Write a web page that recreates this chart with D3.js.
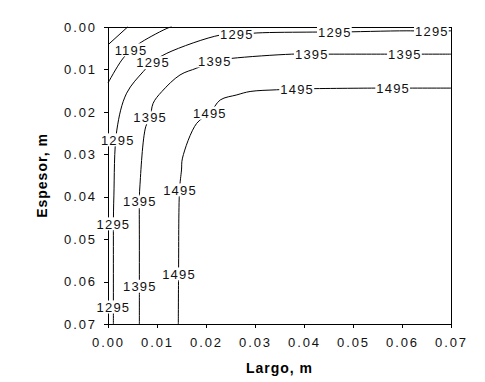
<!DOCTYPE html>
<html>
<head>
<meta charset="utf-8">
<script src="https://cdn.jsdelivr.net/npm/d3@7"></script>
<style>
  body { margin: 0; background: #fff; }
  text { font-family: "Liberation Sans", Arial, sans-serif; }
</style>
</head>
<body>
<svg id="chart" width="485" height="382"></svg>
<script>
// axis ticks (m)
var xTicks = [0, 0.01, 0.02, 0.03, 0.04, 0.05, 0.06, 0.07]
var yTicks = [0, 0.01, 0.02, 0.03, 0.04, 0.05, 0.06, 0.07]

// contour lines, [largo, espesor]
var lineCorner = [[0, 0.0042], [0.0040, 0]]
var line1195 = [[0, 0.0132], [0.0028, 0.0078], [0.0047, 0.0054], [0.0069, 0.0035], [0.0123, 0.0002], [0.0130, 0]]
var line1295 = [[0.0011, 0.07], [0.0011, 0.0660], [0.0011, 0.0502], [0.0011, 0.0464], [0.0012, 0.0398],
  [0.0018, 0.0243], [0.0038, 0.0156], [0.0072, 0.0105], [0.0090, 0.0084], [0.0120, 0.0062],
  [0.0229, 0.0019], [0.0263, 0.0018], [0.0304, 0.0014], [0.0418, 0.0012], [0.0463, 0.0012],
  [0.0610, 0.0009], [0.0661, 0.0010], [0.07, 0.0009]]
var line1395 = [[0.0064, 0.07], [0.0064, 0.0611], [0.0064, 0.050], [0.0064, 0.0412], [0.0065, 0.0377],
  [0.0077, 0.0235], [0.0086, 0.0214], [0.0092, 0.0180], [0.0110, 0.0152], [0.0147, 0.0113],
  [0.0181, 0.0097], [0.0218, 0.0080], [0.0252, 0.0074], [0.0375, 0.0064], [0.0416, 0.0064],
  [0.0571, 0.0064], [0.0606, 0.0064], [0.07, 0.0064]]
var line1495 = [[0.01435, 0.07], [0.0144, 0.0582], [0.0146, 0.0384], [0.0150, 0.0337], [0.0152, 0.0309],
  [0.0181, 0.0227], [0.0208, 0.0203], [0.0229, 0.0172], [0.0263, 0.0160], [0.0290, 0.0152],
  [0.0344, 0.0148], [0.0386, 0.0146], [0.0545, 0.0144], [0.0582, 0.0144], [0.07, 0.0144]]

// contour labels: [largo, espesor]
var labels1195 = [[0.0047, 0.0054]]
var labels1295 = [[0.0011, 0.0660], [0.0011, 0.0464], [0.0020, 0.0266], [0.0092, 0.0084],
  [0.0263, 0.0018], [0.0463, 0.0012], [0.0661, 0.0010]]
var labels1395 = [[0.0065, 0.0611], [0.0065, 0.0412], [0.0086, 0.0214], [0.0218, 0.0080],
  [0.0416, 0.0065], [0.0606, 0.0064]]
var labels1495 = [[0.0145, 0.0582], [0.0147, 0.0384], [0.0208, 0.0203], [0.0386, 0.0146], [0.0582, 0.0144]]

var svg = d3.select("#chart")
var x = d3.scaleLinear().domain([0, 0.07]).range([108, 451])
var y = d3.scaleLinear().domain([0, 0.07]).range([27, 324])
var fmt = d3.format(".2f")

// frame top/right
svg.append("path")
  .attr("d", "M" + x(0) + "," + y(0) + "H" + x(0.07) + "V" + y(0.07))
  .attr("fill", "none").attr("stroke", "#000").attr("stroke-width", 1)
  .attr("shape-rendering", "crispEdges")

svg.append("g")
  .attr("transform", "translate(0," + y(0.07) + ")")
  .call(d3.axisBottom(x).tickValues(xTicks).tickFormat(fmt).tickSize(4).tickSizeOuter(0).tickPadding(10))

svg.append("g")
  .attr("transform", "translate(" + x(0) + ",0)")
  .call(d3.axisLeft(y).tickValues(yTicks).tickFormat(fmt).tickSize(4).tickSizeOuter(0).tickPadding(7))

svg.selectAll(".domain, .tick line").attr("stroke", "#000").attr("shape-rendering", "crispEdges")
svg.selectAll(".tick text")
  .attr("fill", "#111")
  .style("font-size", "13px")
  .style("letter-spacing", "1.9px")

// contours
var line = d3.line()
  .x(function (d) { return x(d[0]) })
  .y(function (d) { return y(d[1]) })
  .curve(d3.curveCatmullRom.alpha(0.5))

var lines = [lineCorner, line1195, line1295, line1395, line1495]
svg.append("g").selectAll("path")
  .data(lines)
  .join("path")
  .attr("d", line)
  .attr("fill", "none")
  .attr("stroke", "#000")
  .attr("stroke-width", 1)

// labels with white box over the line
var labelSets = [["1195", labels1195], ["1295", labels1295], ["1395", labels1395], ["1495", labels1495]]
var labelG = svg.append("g")
labelSets.forEach(function (set) {
  set[1].forEach(function (p) {
    var g = labelG.append("g")
      .attr("transform", "translate(" + x(p[0]) + "," + y(p[1]) + ")")
    var rect = g.append("rect").attr("fill", "#fff")
    var t = g.append("text")
      .attr("text-anchor", "middle")
      .attr("dy", "0.36em")
      .attr("fill", "#111")
      .style("font-size", "13px")
      .style("letter-spacing", "1.2px")
      .text(set[0])
    var w = t.node().getComputedTextLength()
    rect.attr("x", -w / 2 - 1).attr("y", -6.5).attr("width", w + 1).attr("height", 13)
  })
})

// axis titles
svg.append("text")
  .attr("x", (x(0) + x(0.07)) / 2)
  .attr("y", 373)
  .attr("text-anchor", "middle")
  .style("font-size", "14px")
  .style("font-weight", "bold")
  .style("letter-spacing", "1px")
  .text("Largo, m")

svg.append("text")
  .attr("transform", "translate(47," + ((y(0) + y(0.07)) / 2) + ") rotate(-90)")
  .attr("text-anchor", "middle")
  .style("font-size", "14px")
  .style("font-weight", "bold")
  .style("letter-spacing", "1px")
  .text("Espesor, m")
</script>
</body>
</html>
